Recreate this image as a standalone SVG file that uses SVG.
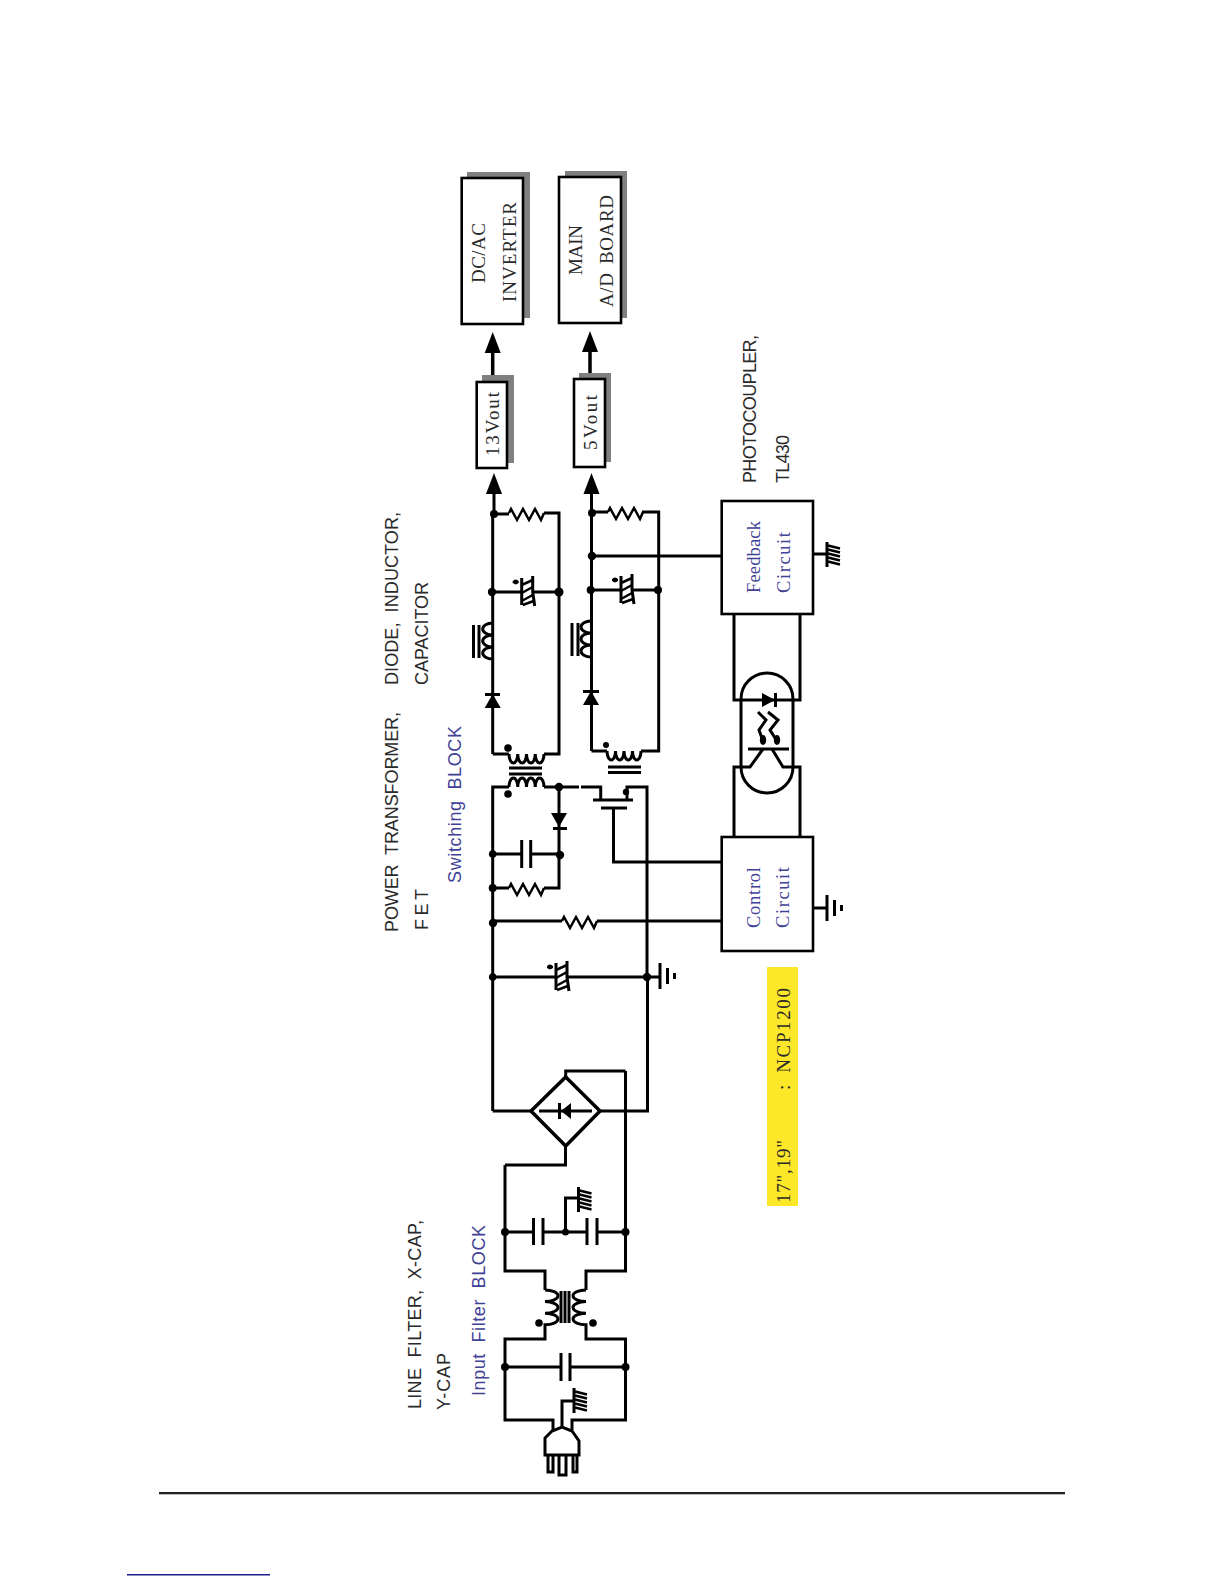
<svg xmlns="http://www.w3.org/2000/svg" width="1224" height="1584" viewBox="0 0 1224 1584">
<style>
.w{fill:none;stroke:#000;stroke-width:3;stroke-linejoin:miter}
.t{fill:none;stroke:#000;stroke-width:2.500}
.box{fill:#fff;stroke:#000;stroke-width:2.600}
.sh{fill:#808080}
.d{fill:#000}
.sans{font-family:"Liberation Sans",Arial,sans-serif;font-size:18px;fill:#2a2a2a;word-spacing:5px}
.blue{fill:#3f4296}
.serif{font-family:"Liberation Serif","Times New Roman",serif;font-size:19px;fill:#2a2a2a;word-spacing:3px}
.fb{fill:#3f4296;font-size:18.500px}
</style>
<defs>
<g id="res"><path class="t" d="M0 0L2 -4L8 7L14 -4L20 7L26 -4L32 7L35 0"/></g>
<g id="hatch"><path class="w" d="M0 -12.500V12.500"/><path class="t" d="M1 -9L13 -6M1 -5L13 -2M1 -1L13 2M1 3L13 6M1 7L13 10"/></g>
<g id="ecap"><path class="w" d="M0 -14V13"/><path class="w" d="M11 -16L11 0L13 14"/><path class="t" d="M0 -7L11 -12M0 1L11 -5M0 9L11 3M1 13L12 9"/><circle class="d" cx="-6" cy="-10" r="2.400"/><path class="t" d="M-9 -10H-3"/></g>
<g id="earth"><path class="w" d="M0 -13V13M7.500 -8V8"/><path class="w" d="M14.500 -3V3"/></g>
<polygon id="ah" points="0,0 -8,21 8,21"/>
<polygon id="diode" points="-8,0 8,0 0,14"/>
</defs>
<g id="footer-lines">
<rect x="159" y="1492" width="906" height="2.300" fill="#222"/>
<rect x="127" y="1574" width="143" height="1.500" fill="#1c1c8c"/>
</g>
<g id="connectors">
<path class="w" d="M505 1165H565.500V1146M505 1165V1271H545V1290M625.500 1071V1271H586V1290M505 1232H533.500M543 1232H587M597 1232H625.500M565.500 1232V1198H578.500"/>
<path class="w" d="M545 1290a13 5.800 0 0 1 0 11.600a13 5.800 0 0 1 0 11.600a13 5.800 0 0 1 0 11.600V1339H505V1420H553V1430M586 1290a13 5.800 0 0 0 0 11.600a13 5.800 0 0 0 0 11.600a13 5.800 0 0 0 0 11.600V1339H625.500V1420H572V1430M505 1367H561M570 1367H625.500M562 1430V1401H574"/>
<path class="w" d="M492.700 1111H531M600 1111H647.500V977M565.700 1077V1071H625.500M492.700 1111V787H509M544 787H579M581 787H600.700V800M627 800V787H647V977"/>
<path class="w" d="M509 787a4.375 9 0 0 1 8.750 0a4.375 9 0 0 1 8.750 0a4.375 9 0 0 1 8.750 0a4.375 9 0 0 1 8.750 0"/>
<path class="w" d="M559 787V854M492.700 854H521.700M530.700 854H559V888H544M509 888H492.700M492.700 921H562M597 921H722M492.700 977H555M567 977H647M613.500 808V862H722M647 977H660"/>
<path class="w" d="M494 493V514M492.700 754V514H509M544 513H559V754H544M509 754H492.700M492.700 592H521.700M532 592H559"/>
<path class="w" d="M509 754a4.375 9 0 0 0 8.750 0a4.375 9 0 0 0 8.750 0a4.375 9 0 0 0 8.750 0a4.375 9 0 0 0 8.750 0"/>
<path class="w" d="M591.500 493V751M592 512H608M642 512H658.700V751H641M607 751H591.500M592 556H722M590.700 590H621M632 590H658.700"/>
<path class="w" d="M607 751a4.250 9 0 0 0 8.500 0a4.250 9 0 0 0 8.500 0a4.250 9 0 0 0 8.500 0a4.250 9 0 0 0 8.500 0"/>
<path class="w" d="M492.700 623a10 6 0 0 0 0 12a10 6 0 0 0 0 12a10 6 0 0 0 0 12"/>
<path class="w" d="M591 621a10 6 0 0 0 0 12a10 6 0 0 0 0 12a10 6 0 0 0 0 12"/>
<path class="w" style="stroke-width:3.500" d="M492.700 345V382M590 345V379"/>
<path class="w" d="M813 554H827M813 908H827M734 614V700H800V614M734 837V767H750L763 749M772 749L783 767H800V837"/>
<use href="#ah" x="492.700" y="332" class="d"/>
<use href="#ah" x="590" y="331" class="d"/>
<use href="#ah" x="494" y="473" class="d"/>
<use href="#ah" x="591.500" y="473" class="d"/>
<circle class="d" cx="505" cy="1232" r="4"/><circle class="d" cx="565.500" cy="1232" r="3.500"/><circle class="d" cx="625.500" cy="1232" r="4"/>
<circle class="d" cx="505" cy="1367" r="4"/><circle class="d" cx="625.500" cy="1367" r="4"/>
<circle class="d" cx="539" cy="1323" r="3.800"/><circle class="d" cx="593" cy="1323" r="3.800"/>
<circle class="d" cx="559" cy="787" r="4.200"/><circle class="d" cx="492.700" cy="854" r="3.800"/><circle class="d" cx="560" cy="855" r="4.200"/><circle class="d" cx="492.700" cy="888" r="4"/><circle class="d" cx="493" cy="923" r="4.200"/><circle class="d" cx="492.700" cy="977" r="3.800"/><circle class="d" cx="647" cy="977" r="4.200"/>
<circle class="d" cx="494" cy="514" r="4"/><circle class="d" cx="492" cy="592" r="4.200"/><circle class="d" cx="559" cy="592" r="4.500"/><circle class="d" cx="592" cy="513" r="4"/><circle class="d" cx="592" cy="556" r="4.200"/><circle class="d" cx="590.700" cy="590" r="4"/><circle class="d" cx="658" cy="590" r="4"/>
<circle class="d" cx="508" cy="748" r="3.800"/><circle class="d" cx="508" cy="794" r="3.800"/><circle class="d" cx="606" cy="745" r="3"/><circle class="d" cx="626" cy="792" r="3.200"/>
</g>
<g id="line-filter">
<use href="#hatch" x="578.500" y="1199.500"/>
<path class="w" d="M533.500 1218V1245M543 1218V1245M587 1218V1245M597 1218V1245"/>
<path class="w" d="M561 1291V1323M565 1291V1323M569 1291V1323"/>
<path class="w" d="M561 1353V1381M570 1353V1381"/>
</g>
<g id="plug">
<use href="#hatch" x="574" y="1400.500"/>
<path class="w" style="fill:#fff" d="M545 1455V1438L552 1431L562 1427L572 1431L579 1441V1455Z"/>
<path class="w" d="M548 1455V1472H553V1455M559 1455V1475H566V1455M573 1455V1472H577V1455"/>
</g>
<g id="bridge">
<polygon class="w" style="stroke-width:3.500" points="565.700,1077 600,1111 565.700,1146 531,1111"/>
<path class="w" d="M539 1111H592"/>
<path class="d" d="M558 1103H561V1111L571 1103V1119L561 1111V1119H558Z"/>
</g>
<g id="rc-parts">
<use href="#res" x="509" y="888"/>
<use href="#res" x="562" y="921"/>
<use href="#res" x="509" y="513"/>
<use href="#res" x="608" y="512"/>
<use href="#ecap" x="556" y="977"/>
<use href="#ecap" x="521.700" y="592"/>
<use href="#ecap" x="621" y="590"/>
<use href="#earth" x="660" y="976"/>
<use href="#diode" x="559" y="813"/>
<path class="w" d="M553 828.500H567"/>
<path class="w" d="M521.700 840V868M530.700 840V868"/>
<use href="#diode" transform="translate(492.700 708) scale(1 -1)"/>
<path class="w" d="M485 694.500H500"/>
<use href="#diode" transform="translate(591 705) scale(1 -1)"/>
<path class="w" d="M583 691.500H599"/>
<path class="w" d="M473.500 625V658M479 625V658M572 623V656M578 623V656"/>
</g>
<g id="transformer">
<path class="w" d="M509 768H542M509 774H542M608 767H641M608 772.500H641"/>
</g>
<g id="fet">
<path class="w" d="M593 800H633M601 808H627"/>
</g>
<g id="optocoupler">
<rect class="w" x="741" y="673" width="52" height="120" rx="26" ry="26"/>
<polygon class="d" points="762,693 762,707 775,700"/>
<path class="w" d="M775.500 693V707M748 749H789"/>
<path class="w" d="M758 712L766 720L759 730L763 741M768 712L778 720L770 730L777 741"/>
<ellipse class="d" cx="763" cy="740" rx="3.200" ry="5"/><ellipse class="d" cx="777" cy="740" rx="3.200" ry="5"/>
</g>
<g id="dc-ac-inverter">
<rect class="sh" x="467" y="172" width="63" height="146"/>
<rect class="box" x="461.700" y="178" width="61.300" height="146"/>
<text class="serif" transform="translate(485 283) rotate(-90)" textLength="60">DC/AC</text>
<text class="serif" transform="translate(515.700 302) rotate(-90)" textLength="100">INVERTER</text>
</g>
<g id="main-ad-board">
<rect class="sh" x="565" y="171" width="62" height="147"/>
<rect class="box" x="559" y="177" width="62" height="146"/>
<text class="serif" transform="translate(582 275) rotate(-90)" textLength="50">MAIN</text>
<text class="serif" transform="translate(613 307) rotate(-90)" textLength="112">A/D BOARD</text>
</g>
<g id="v13out">
<rect class="sh" x="482" y="375" width="32" height="88"/>
<rect class="box" x="476.700" y="382" width="30.300" height="86"/>
<text class="serif" transform="translate(499 456) rotate(-90)" textLength="64">13Vout</text>
</g>
<g id="v5out">
<rect class="sh" x="579" y="373" width="32" height="89"/>
<rect class="box" x="574" y="379" width="31" height="88"/>
<text class="serif" transform="translate(596.700 450) rotate(-90)" textLength="55">5Vout</text>
</g>
<g id="feedback-circuit">
<rect class="box" x="721.700" y="501" width="91.300" height="113"/>
<text class="serif fb" transform="translate(760 593) rotate(-90)" textLength="72">Feedback</text>
<text class="serif fb" transform="translate(790 593) rotate(-90)" textLength="61">Circuit</text>
<use href="#hatch" x="827" y="554.500"/>
</g>
<g id="control-circuit">
<rect class="box" x="721.700" y="837" width="91.300" height="114"/>
<text class="serif fb" transform="translate(760 928) rotate(-90)" textLength="61">Control</text>
<text class="serif fb" transform="translate(789 928) rotate(-90)" textLength="61">Circuit</text>
<use href="#earth" x="827" y="908"/>
</g>
<g id="labels">
<text class="sans" transform="translate(398 932) rotate(-90)" textLength="220">POWER TRANSFORMER,</text>
<text class="sans" transform="translate(428 930) rotate(-90)" textLength="41">FET</text>
<text class="sans" transform="translate(398 685) rotate(-90)" textLength="173">DIODE, INDUCTOR,</text>
<text class="sans" transform="translate(428 685) rotate(-90)" textLength="103">CAPACITOR</text>
<text class="sans blue" transform="translate(460.700 883) rotate(-90)" textLength="157">Switching BLOCK</text>
<text class="sans" transform="translate(420.700 1409) rotate(-90)" textLength="189">LINE FILTER, X-CAP,</text>
<text class="sans" transform="translate(450 1410) rotate(-90)" textLength="57">Y-CAP</text>
<text class="sans blue" transform="translate(485 1396) rotate(-90)" textLength="171">Input Filter BLOCK</text>
<text class="sans" transform="translate(756 483) rotate(-90)" textLength="148">PHOTOCOUPLER,</text>
<text class="sans" transform="translate(789 483) rotate(-90)" textLength="48">TL430</text>
</g>
<g id="ncp1200-note">
<rect x="767" y="967" width="31" height="239" fill="#fce728"/>
<text class="serif" transform="translate(790 1203) rotate(-90)" textLength="63">17",19"</text>
<text class="serif" transform="translate(790 1090) rotate(-90)" textLength="102" style="word-spacing:4px">: NCP1200</text>
</g>
</svg>
